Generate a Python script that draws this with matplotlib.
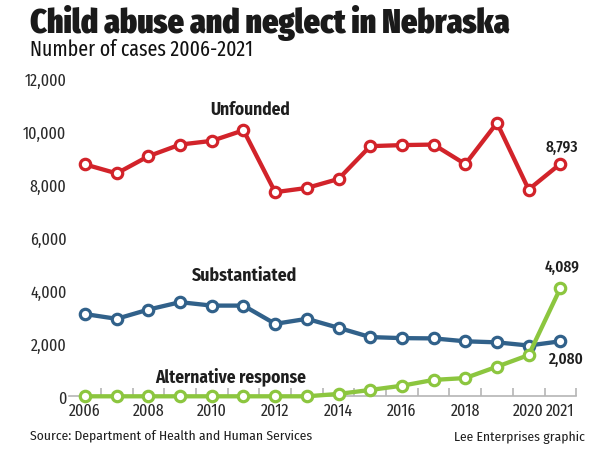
#!/usr/bin/env python
# -*- coding: utf-8 -*-

# plot.py - child abuse and neglect cases in Nebraska, 2006-2021
import matplotlib
matplotlib.use("Agg")
import matplotlib.pyplot as plt
import numpy as np

years = list(range(2006, 2022))
unfounded = [8770, 8430, 9080, 9520, 9660, 10060, 7720, 7880, 8220, 9460,
             9500, 9520, 8780, 10340, 7820, 8793]
substantiated = [3110, 2930, 3280, 3560, 3430, 3430, 2740, 2930, 2590, 2240,
                 2200, 2190, 2080, 2040, 1920, 2080]
alternative = [0, 0, 0, 0, 0, 0, 0, 0, 90, 240, 400, 620, 690, 1120, 1560,
               4089]
x_labels = ["2006", "2008", "2010", "2012", "2014", "2016", "2018", "2020",
            "2021"]
y_ticks = [0, 2000, 4000, 6000, 8000, 10000, 12000]

RED = "#d2232a"
BLUE = "#31618a"
GREEN = "#8cc63f"
INK = "#1e1e1e"
XCOND = ["Fira Sans Extra Condensed", "DejaVu Sans"]
COND = ["Fira Sans Condensed", "DejaVu Sans"]


def draw_series(ax, values, color):
    ax.plot(years, values, color=color, lw=3.1, marker="o", ms=7.5,
            mfc="white", mec=color, mew=2.3, clip_on=False, zorder=3,
            solid_joinstyle="round")


def main():
    fig = plt.figure(figsize=(6.13, 4.6), dpi=100)
    ax = fig.add_axes([69.2 / 613, 1 - 397.3 / 460, 507 / 613, 317.3 / 460])

    draw_series(ax, unfounded, RED)
    draw_series(ax, substantiated, BLUE)
    draw_series(ax, alternative, GREEN)

    ax.set_xlim(2005.5, 2021.5)
    ax.set_ylim(0, 12000)

    for s in ["top", "right", "left"]:
        ax.spines[s].set_visible(False)
    ax.spines["bottom"].set_color("#b5b5b5")
    ax.spines["bottom"].set_linewidth(1.2)

    # year labels without marks, marks between the years
    ax.set_xticks([int(v) for v in x_labels])
    ax.set_xticklabels(x_labels, family=XCOND, fontsize=12.5,
                       fontweight="normal", color="#2a2a2a")
    ax.tick_params(axis="x", length=0, pad=4)
    ax.set_xticks(np.arange(2006.5, 2022, 1.0), minor=True)
    ax.tick_params(axis="x", which="minor", direction="in", length=6,
                   width=1.2, color="#b5b5b5")

    ax.set_yticks(y_ticks)
    ax.set_yticklabels([f"{v:,}" for v in y_ticks], family=XCOND,
                       fontsize=12.5, fontweight="normal", color="#2a2a2a")
    ax.tick_params(axis="y", length=0, pad=2)

    # series names
    ax.text(2011.2, 10880, "Unfounded", ha="center", va="center",
            family=COND, fontsize=12.5, fontweight="bold", color=INK)
    ax.text(2011.05, 4600, "Substantiated", ha="center", va="center",
            family=COND, fontsize=12.8, fontweight="bold", color=INK)
    ax.text(2010.6, 800, "Alternative response", ha="center", va="center",
            family=COND, fontsize=12.5, fontweight="bold", color=INK)

    # end values
    ax.text(2021.05, 9470, f"{unfounded[-1]:,}", ha="center", va="center",
            family=XCOND, fontsize=12, fontweight="medium", color=INK)
    ax.text(2021.05, 4900, f"{alternative[-1]:,}", ha="center", va="center",
            family=XCOND, fontsize=12, fontweight="medium", color=INK)
    ax.text(2021.15, 1420, f"{substantiated[-1]:,}", ha="center", va="center",
            family=XCOND, fontsize=12, fontweight="medium", color=INK)

    fig.text(30 / 613, 1 - 23 / 460, "Child abuse and neglect in Nebraska",
             ha="left", va="center", family=XCOND, fontsize=24.8,
             fontweight="black", color="#1a1a1a")
    fig.text(30 / 613, 1 - 50 / 460, "Number of cases 2006-2021",
             ha="left", va="center", family=XCOND, fontsize=15.5,
             fontweight="normal", color="#111111")
    fig.text(30 / 613, 1 - 436 / 460,
             "Source: Department of Health and Human Services",
             ha="left", va="center", family=COND, fontsize=9.8,
             color=INK)
    fig.text(585 / 613, 1 - 438 / 460, "Lee Enterprises graphic",
             ha="right", va="center", family=COND, fontsize=9.8,
             color=INK)

    fig.savefig("out.png", dpi=100)


if __name__ == "__main__":
    main()
